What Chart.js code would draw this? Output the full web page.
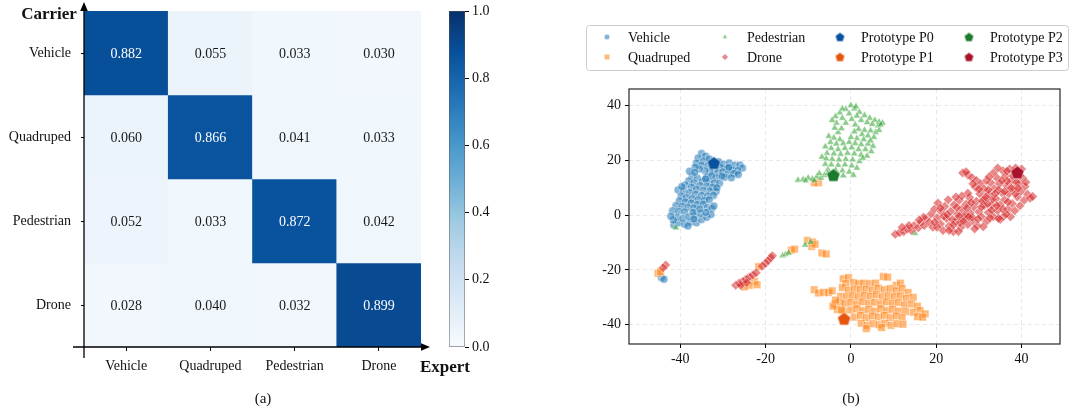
<!DOCTYPE html>
<html>
<head>
<meta charset="utf-8">
<script src="https://cdn.jsdelivr.net/npm/chart.js@4.4.1/dist/chart.umd.min.js"></script>
<style>
  body { margin: 0; background: #fff; width: 1070px; height: 410px; position: relative; overflow: hidden;
         font-family: "Liberation Serif", "Times New Roman", serif; color: #111; }
  canvas { position: absolute; top: 0; }
  .lbl { position: absolute; transform: translate(-50%, -50%); white-space: nowrap; }
</style>
</head>
<body>
<canvas id="heat" width="440" height="410" style="left:0"></canvas>
<canvas id="cbar" width="60" height="410" style="left:440px"></canvas>
<canvas id="tsne" width="490" height="410" style="left:580px"></canvas>
<div class="lbl" style="left:49px;top:14px;font-weight:bold;font-size:17px">Carrier</div>
<div class="lbl" style="left:445px;top:367px;font-weight:bold;font-size:17px">Expert</div>
<div class="lbl" style="left:263px;top:398px;font-size:15px">(a)</div>
<div class="lbl" style="left:851px;top:398px;font-size:15px">(b)</div>
<script>
const FONT = '"Liberation Serif", "Times New Roman", serif';
Chart.defaults.font.family = FONT;
Chart.defaults.color = '#111';
Chart.defaults.animation = false;

// ---- (a) carrier / expert matrix
const carriers = ['Vehicle', 'Quadruped', 'Pedestrian', 'Drone'];
const experts = ['Vehicle', 'Quadruped', 'Pedestrian', 'Drone'];
const vehicleRow = [0.882, 0.055, 0.033, 0.030];
const quadrupedRow = [0.060, 0.866, 0.041, 0.033];
const pedestrianRow = [0.052, 0.033, 0.872, 0.042];
const droneRow = [0.028, 0.040, 0.032, 0.899];
const colorbarTicks = [0, 0.2, 0.4, 0.6, 0.8, 1.0];

// ---- (b) t-SNE embedding
const vehiclePts = [
  [-35,22.5],[-34,21.5],[-35.8,20.8],[-34.5,19.8],[-33.2,20.5],[-31,19.5],[-29.8,18.6],[-28.5,19],[-27.2,18.2],[-26,18.3],
  [-25.4,17.2],[-36.2,19],[-35,18.2],[-33.5,18],[-30.5,17.5],[-29,17.2],[-27.8,16.6],[-26.5,16.3],
  [-32,16.8],[-33,15.8],[-31.2,15.5],[-30,15.8],[-28.8,15],[-27.4,15.2],[-26.4,14.8],[-29.6,13.8],[-31.5,13.6],[-34.2,16.2],
  [-35.5,16.8],[-36.5,17.5],[-33.8,14],[-28,13.6],
  [-37.2,14.2],[-36,13.5],[-34.8,12.4],[-33.2,12.2],[-32,11.8],[-30.8,11.6],[-38,12.5],[-36.8,11.8],[-35.4,10.8],[-33.8,10.6],
  [-32.4,10.2],[-38.8,11],[-37.4,10.2],[-36.2,9.4],[-34.6,9],[-33,8.8],[-31.6,8.6],
  [-40.5,9.2],[-39.2,8.8],[-37.8,8.2],[-36.4,7.6],[-35,7.2],[-33.6,7],[-32.2,7.2],[-39.8,7],[-38.6,6.4],[-37.2,6],[-35.8,5.6],
  [-34.4,5.4],[-40.2,5.2],[-38.8,4.8],[-37.4,4.4],[-36,3.9],[-34.6,4],[-33.2,5.6],
  [-41,3.5],[-39.6,3.2],[-38.2,2.8],[-36.8,2.6],[-41.8,1.6],[-40.4,1.4],[-39,1.2],[-33.6,2.8],[-32.6,2.4],[-32.1,3.3],
  [-41.5,-3.6],[-40.4,-2.8],[-39,-3.3],[-37.6,-2.6],[-36.2,-2.8],[-35,-1.6],[-33.8,-0.8],[-32.8,0.2],[-40.8,-0.8],[-39.4,-1.2],
  [-38,-0.6],[-36.6,-0.2],[-35.2,0.6],[-41.6,-1.8],[-34,1],
  [-37.8,16],[-36.6,15.6],[-30.2,14.2],[-32.6,14.4],[-39.6,10.4],[-34,13.2],[-31.4,10],[-35.4,2.2],[-37,1],[-42.2,-0.4],
  [-38.2,-4],[-36.8,-1.4],[-28.6,17.4],[-31.8,18.2],
  [-44.4,-22.8],[-43.8,-23.4]
];
const quadrupedPts = [
  [-1.8,-23.2],[-0.6,-22.8],[0.6,-24.6],[1.8,-25],[3,-24.8],[4.4,-25],[5.8,-24.8],[7.6,-22.4],[8.6,-22.6],[10.6,-25.6],
  [11.6,-24.8],[-1.2,-25],[-2,-26.4],
  [-0.6,-27.4],[0.8,-27],[2.2,-27.2],[3.6,-27],[5,-27.4],[6.4,-26.6],[7.8,-27.2],[9.2,-26.8],[10.6,-27.6],[12,-26.8],[13.4,-28.2],
  [-2.4,-29.6],[-1,-29.8],[0.4,-29.4],[1.8,-29.8],[3.2,-29.2],[4.6,-29.6],[6,-29],[7.4,-29.8],[8.8,-29.4],[10.2,-29.8],
  [11.6,-29.4],[13,-30.4],[14.6,-30],
  [-3.8,-32.4],[-2.6,-31.8],[-1.4,-32.2],[0,-31.8],[1.4,-32.4],[2.8,-31.6],[4.2,-32.2],[5.6,-31.8],[7,-32.4],[8.4,-31.6],
  [9.8,-32.2],[11.2,-31.8],[12.6,-32.8],[14.2,-32.4],[15.6,-33.2],
  [-3.2,-34.4],[-1.6,-35],[0,-34.6],[1.4,-34.2],[2.8,-34.8],[4.2,-34.4],[5.6,-35],[7,-34.2],[8.4,-34.8],[9.8,-34.4],
  [11.2,-35],[12.8,-35.2],[14.6,-35.4],[16.2,-34.8],[17.4,-36],
  [0.8,-37.2],[2.2,-36.6],[3.6,-37.4],[5,-36.8],[6.4,-37.2],[7.8,-36.6],[9.2,-37.4],[10.6,-36.8],[12,-37.4],[15.6,-37],[16.8,-37.2],
  [2.4,-39.4],[3.8,-40.2],[5.2,-39.6],[6.6,-40],[8,-39.4],[9.4,-40.2],[10.8,-39.6],[12.2,-39.8],[3.6,-41.4],[7.2,-41],
  [-8.6,-27.2],[-7.6,-28.4],[-6.4,-28.2],[-5.2,-28.2],[-4.4,-27.6],[-4.2,-33.2],[-3.6,-31],[-2.2,-34.6],
  [-45.2,-21.2],[-44.6,-20.6],[-10.2,-9.2],[-9,-9.8],[-9.2,-11.4],[-8.4,-10.6],[-6.8,-13.8],[-5.8,-14.2],[-14,-12.8],[-13.2,-12.4],
  [-21.6,-18.8],[-22.6,-24.2],[-23.8,-25.6],[-25,-26.2],[-22,-25.4],[-7.6,11.8],[-8.6,11.8]
];
const pedestrianPts = [
  [0,40],[-1.2,38.6],[0.8,38.8],[2,37.6],[-2.6,37.4],[-0.4,37],[1.4,36.2],[3.2,36.4],[4.4,35.4],[5.6,34.6],[6.6,34],[7.4,33.6],
  [-3.6,36],[-2,35.4],[0.2,35],[2.4,34.6],[3.8,33.8],[5,33.2],[6.4,32.6],[-1.2,33.6],[1,33],[-3.4,33.6],
  [-3,30.2],[-2.2,31.6],[1.8,31.4],[3.2,31],[4.6,30.8],[5.8,30.2],[0.8,30.4],[2.6,29.4],[4,29],[5.4,28.4],[1.4,28],[3,27.6],
  [-4,28.2],[-2.6,27.6],[-4.8,26.6],
  [-3.4,26],[-1.8,26.2],[-0.4,26.6],[1,26.2],[2.4,25.8],[4,26],[5.2,25.2],[-6,25],[-4.6,24.4],[-3,24],[-1.4,24.4],[0.2,24.6],
  [1.8,24],[3.4,24],[4.8,23.2],[-5.6,22.6],[-4,22.4],[-2.4,22.2],[-0.8,22.6],[0.8,22.4],[2.4,22],[3.8,21.6],[-6.8,21.2],
  [-5.8,20.6],[-4.4,20.4],[-2.8,20.2],[-1.2,20.4],[0.4,20.2],[2,19.6],[-6,18.6],[-4.6,18.4],[-3,18.2],[-1.4,18.4],[0.2,18],
  [1.4,17.2],[-5.4,16.6],[-3.6,16.4],[-2,16.2],[-0.4,15.8],[0.6,14.6],[-1.8,14.4],
  [-5.2,28.8],[-3.8,31.8],[6.6,31],[7,33],[0,28.4],[4.6,27.2],[2.8,20.8],[-2,38.8],[1.2,39.6],[-4.4,34.6],
  [-12.4,12.8],[-11.2,13],[-10,13.6],[-9,13.2],[-8,14],[-7,13.6],[-6.2,14.6],[-5.4,15.2],[-8.6,12.6],[-10.6,12.6],[-7.4,15.2],
  [-41,-4.6],[15,-6.6],[-16,-14.8],[-15.3,-14.3],[-14.6,-13.8],[-10.7,-10.9],[-9.4,-9.8]
];
const dronePts = [
  [10.4,-7],[11.4,-6.4],[12.4,-6],[13.2,-5],[14.2,-5.6],[14.8,-3.8],[15.8,-4.6],[16.4,-2.6],[17.2,-3.8],[17.6,-1.2],
  [18.4,-2.6],[18.8,0.4],[19.2,-4.4],[19.6,2.2],[20.2,-1],[20.4,4.4],[21,-3.2],[21.2,1.2],[21.6,-5.6],
  [22,3.2],[22.4,-1.2],[22.8,5.6],[23,-4],[23.4,1.4],[24,-6],[24.2,3.8],[24.6,-2.2],[25,0.4],[25.4,5.4],[25.8,-4.4],[26,2.2],
  [26.6,-1],[27,4],[27.4,-3.4],[27.8,6.4],[28,0.8],[28.6,-2],[28.8,3],[29.4,5],[29.6,-3.8],[30,1.2],[30.2,7.8],[30.6,-0.6],[29,-5],
  [26.2,15.4],[27.4,14.6],[28.4,13.6],[29.4,12.6],[30.4,11.4],[29.2,10.2],[31.2,9.6],[27,15.8],
  [31.2,3.4],[31.4,5.6],[31.8,-2.2],[32.2,1],[32.4,7.6],[32.8,11.8],[33,3.6],[33.4,-0.6],[33.6,9.6],[34,6],[34.2,13.6],[34.4,1.6],
  [34.8,11.4],[35,3.8],[35.4,8.2],[35.6,16.2],[35.8,-0.4],[36,5.6],[36.2,14.2],[36.6,10.6],[36.8,2.2],[37,7.8],[37.2,16.8],
  [37.6,12.6],[37.8,4.2],[38.2,9.6],[38.4,1.6],[38.6,14.6],[37.4,-0.6],
  [39,6.6],[39.4,11.6],[39.6,3.4],[39.8,8.6],[40.2,13.6],[40.6,5.4],[40.8,10.4],[41.4,7.6],[42,6.2],[42.6,6.8],[41,12],[40,16.8],[38.6,17.2],
  [23.8,-1.6],[25.6,-2.8],[26.8,0.2],[24.8,2.8],[28.4,-0.8],[30.6,3],[32.6,-1],[33.2,5.8],[35,-1.6],[36.4,0.4],[27.2,2.6],
  [21.8,-0.4],[34.6,9.2],[31.8,12.6],[33.4,15.4],[36.6,12.4],[38.8,12],[25.2,-6],[20.2,-4.4],[23,-5.6],
  [21,2.6],[22.6,0.2],[24,-3.6],[25.4,-0.4],[26.4,-2.2],[27.6,-0.6],[28.2,4.6],[29.8,-1.4],[30.8,5.2],[31,-4.2],[32,4.2],
  [33,1.8],[34.6,-1.2],[35.6,2.2],[36.8,4.8],[37.6,9.8],[38.6,7.8],[39.2,9.8],[35.4,12.6],[33.8,7.8],[32.2,9.2],[31.6,6.6],
  [34.2,3.4],[36,8.6],[30,9.4],[28.6,11.4],[27.4,8],[26,7],[24.6,6.6],[38,14.4],[36.6,16],[34.4,17.2],[39.6,14.4],[32.4,14],
  [19.6,-2.6],[17,-0.8],[16,-1.8],[13.6,-3.8],[12,-4.4],
  [-27,-25.6],[-26.2,-24.8],[-25.4,-24.2],[-24.6,-23.4],[-23.8,-22.6],[-23,-21.8],[-22.2,-21],[-20.8,-18.6],[-20,-17.6],
  [-19.4,-16.6],[-18.8,-15.6],[-18.4,-14.8],[-25.8,-25.6],[-24.4,-24.6],
  [-43.4,-18.2],[-44,-19.2]
];
const prototypeP0 = [[-32.1, 19.0]];
const prototypeP1 = [[-1.6, -37.8]];
const prototypeP2 = [[-4.1, 14.6]];
const prototypeP3 = [[39.0, 15.6]];
const xTicks = [-40, -20, 0, 20, 40];
const yTicks = [-40, -20, 0, 20, 40];

// Blues colormap
const BLUES = ['#f7fbff', '#deebf7', '#c6dbef', '#9ecae1', '#6baed6', '#4292c6', '#2171b5', '#08519c', '#08306b'];
function hexRgb(h) { return [1, 3, 5].map(i => parseInt(h.substr(i, 2), 16)); }
function blues(v) {
  const t = Math.max(0, Math.min(1, v)) * (BLUES.length - 1);
  const i = Math.min(Math.floor(t), BLUES.length - 2);
  const a = hexRgb(BLUES[i]), b = hexRgb(BLUES[i + 1]), f = t - i;
  return 'rgb(' + a.map((c, k) => Math.round(c + (b[k] - c) * f)).join(',') + ')';
}

//Texto de cada celda
const cellText = {
  id: 'cellText',
  afterDatasetsDraw(chart) {
    const ctx = chart.ctx;
    ctx.save();
    ctx.font = '14px ' + FONT;
    ctx.textAlign = 'center';
    ctx.textBaseline = 'middle';
    chart.data.datasets.forEach((ds, i) => {
      chart.getDatasetMeta(i).data.forEach((bar, j) => {
        const v = ds.values[j];
        ctx.fillStyle = v > 0.5 ? '#fff' : '#1a1a1a';
        ctx.fillText(v.toFixed(3), bar.x, (bar.y + bar.base) / 2 + 1);
      });
    });
    ctx.restore();
  }
};

//Ejes con flecha
const arrowAxes = {
  id: 'arrowAxes',
  afterDraw(chart) {
    const { ctx, chartArea: a } = chart;
    ctx.save();
    ctx.strokeStyle = '#000';
    ctx.fillStyle = '#000';
    ctx.lineWidth = 1.3;
    ctx.beginPath();
    ctx.moveTo(a.left - 11, a.bottom); ctx.lineTo(a.right + 2, a.bottom);
    ctx.moveTo(a.left, a.bottom + 11); ctx.lineTo(a.left, a.top - 2);
    ctx.stroke();
    ctx.beginPath();
    ctx.moveTo(a.right + 9, a.bottom); ctx.lineTo(a.right, a.bottom - 3.8); ctx.lineTo(a.right, a.bottom + 3.8); ctx.closePath();
    ctx.moveTo(a.left, a.top - 9); ctx.lineTo(a.left - 3.8, a.top); ctx.lineTo(a.left + 3.8, a.top); ctx.closePath();
    ctx.fill();
    ctx.restore();
  }
};

new Chart(document.getElementById('heat'), {
  type: 'bar',
  data: {
    labels: experts,
    datasets: [vehicleRow, quadrupedRow, pedestrianRow, droneRow].map((row, i) => ({
      label: carriers[i],
      data: row.map(() => [3 - i, 4 - i]),
      values: row,
      backgroundColor: row.map(blues),
      borderWidth: 0,
      grouped: false,
      barPercentage: 1,
      categoryPercentage: 1
    }))
  },
  options: {
    responsive: false,
    devicePixelRatio: 1,
    layout: { padding: { top: 11, right: 19, left: 0, bottom: 0 } },
    plugins: { legend: { display: false }, tooltip: { enabled: false } },
    scales: {
      x: {
        grid: { drawOnChartArea: false, offset: false, tickLength: 4, color: '#000' },
        border: { display: false },
        ticks: { font: { size: 14 }, padding: 7, color: '#111' },
        afterFit(s) { s.height = 63; }
      },
      y: {
        min: 0, max: 4,
        grid: { drawOnChartArea: false, tickLength: 3, color: '#000' },
        border: { display: false },
        afterBuildTicks(s) { s.ticks = [0.5, 1.5, 2.5, 3.5].map(v => ({ value: v })); },
        ticks: { font: { size: 14 }, padding: 10, color: '#111', callback: v => carriers[3 - Math.floor(v)] },
        afterFit(s) { s.width = 84; s.paddingTop = 0; s.paddingBottom = 0; }
      }
    }
  },
  plugins: [cellText, arrowAxes]
});

// colorbar
new Chart(document.getElementById('cbar'), {
  type: 'bar',
  data: {
    labels: ['cb'],
    datasets: [{
      data: [[0, 1]],
      backgroundColor(c) {
        const a = c.chart.chartArea;
        if (!a) return BLUES[0];
        const g = c.chart.ctx.createLinearGradient(0, a.bottom, 0, a.top);
        BLUES.forEach((col, i) => g.addColorStop(i / (BLUES.length - 1), col));
        return g;
      },
      borderColor: '#555',
      borderWidth: 0.8,
      borderSkipped: false,
      barPercentage: 1,
      categoryPercentage: 1
    }]
  },
  options: {
    responsive: false,
    devicePixelRatio: 1,
    layout: { padding: { left: 9, top: 11, bottom: 63, right: 0 } },
    plugins: { legend: { display: false }, tooltip: { enabled: false } },
    scales: {
      x: { display: false },
      y: {
        position: 'right', min: 0, max: 1,
        afterBuildTicks(s) { s.ticks = colorbarTicks.map(v => ({ value: v })); },
        ticks: { font: { size: 14 }, padding: 3, color: '#111', callback: v => v.toFixed(1) },
        grid: { drawOnChartArea: false, tickLength: 4, color: '#000' },
        border: { display: false },
        afterFit(s) { s.width = 35; s.paddingTop = 0; s.paddingBottom = 0; }
      }
    }
  }
});

// pentagon marker for prototypes
function pentagon(color, size) {
  const c = document.createElement('canvas');
  c.width = c.height = size;
  const g = c.getContext('2d');
  const r = size / 2 - 0.6;
  g.beginPath();
  for (let k = 0; k < 5; k++) {
    const ang = -Math.PI / 2 + k * 2 * Math.PI / 5;
    const px = size / 2 + r * Math.cos(ang), py = size / 2 + r * Math.sin(ang) + r * 0.09;
    if (k) g.lineTo(px, py); else g.moveTo(px, py);
  }
  g.closePath();
  g.fillStyle = color;
  g.fill();
  g.strokeStyle = 'rgba(255,255,255,0.8)';
  g.lineWidth = 0.6;
  g.stroke();
  return c;
}

const protoColors = ['#08519c', '#e6550d', '#1b7a2c', '#a8122c'];
const pts = arr => arr.map(([x, y]) => ({ x, y }));
const cloud = (label, data, color, style, radius, order) => ({
  label, data: pts(data), pointStyle: style, pointRadius: radius,
  backgroundColor: color, borderColor: 'rgba(255,255,255,0.75)', borderWidth: 0.6, order
});
const proto = (label, data, color) => ({
  label, data: pts(data), pointStyle: pentagon(color, 15), legendIcon: pentagon(color, 11),
  backgroundColor: color, order: 0
});

//Leyenda en 4 columnas
const gridLegend = {
  id: 'gridLegend',
  afterDraw(chart) {
    const ctx = chart.ctx;
    ctx.save();
    ctx.fillStyle = 'rgba(255,255,255,0.9)';
    ctx.strokeStyle = '#cccccc';
    ctx.lineWidth = 1;
    ctx.beginPath();
    ctx.roundRect(6.5, 25.5, 482, 45, 3);
    ctx.fill();
    ctx.stroke();
    const markX = [27, 145, 260, 389], textX = [48, 167, 281, 410], rowY = [37, 57];
    ctx.font = '14px ' + FONT;
    ctx.textBaseline = 'middle';
    chart.data.datasets.forEach((ds, i) => {
      const col = Math.floor(i / 2), row = i % 2;
      const x = markX[col], y = rowY[row];
      if (ds.legendIcon) {
        ctx.drawImage(ds.legendIcon, x - 5.5, y - 5.5);
      } else {
        ctx.fillStyle = ds.backgroundColor;
        ctx.strokeStyle = ds.borderColor;
        ctx.lineWidth = ds.borderWidth;
        Chart.helpers.drawPoint(ctx, { pointStyle: ds.pointStyle, radius: ds.pointRadius * 0.7, borderWidth: ds.borderWidth, rotation: 0 }, x, y);
      }
      ctx.fillStyle = '#111';
      ctx.fillText(ds.label, textX[col], y + 1);
    });
    ctx.restore();
  }
};

const frame = {
  id: 'frame',
  afterDraw(chart) {
    const { ctx, chartArea: a } = chart;
    ctx.save();
    ctx.strokeStyle = '#262626';
    ctx.lineWidth = 1.2;
    ctx.strokeRect(a.left, a.top, a.right - a.left, a.bottom - a.top);
    ctx.restore();
  }
};

new Chart(document.getElementById('tsne'), {
  type: 'scatter',
  data: {
    datasets: [
      cloud('Vehicle', vehiclePts, 'rgba(31,119,180,0.55)', 'circle', 4, 4),
      cloud('Quadruped', quadrupedPts, 'rgba(255,127,14,0.55)', 'rect', 5.4, 3),
      cloud('Pedestrian', pedestrianPts, 'rgba(44,160,44,0.55)', 'triangle', 4.2, 2),
      cloud('Drone', dronePts, 'rgba(214,39,40,0.55)', 'rectRot', 4.8, 1),
      proto('Prototype P0', prototypeP0, protoColors[0]),
      proto('Prototype P1', prototypeP1, protoColors[1]),
      proto('Prototype P2', prototypeP2, protoColors[2]),
      proto('Prototype P3', prototypeP3, protoColors[3])
    ]
  },
  options: {
    responsive: false,
    devicePixelRatio: 1,
    layout: { padding: { top: 89, right: 10, left: 0, bottom: 0 } },
    plugins: { legend: { display: false }, tooltip: { enabled: false } },
    scales: {
      x: {
        type: 'linear', min: -52, max: 49,
        afterBuildTicks(s) { s.ticks = xTicks.map(v => ({ value: v })); },
        ticks: { font: { size: 14 }, padding: 3, color: '#111', callback: v => String(v) },
        grid: { color: '#e3e3e3', lineWidth: 0.8, tickColor: '#000', tickLength: 4, tickWidth: 1 },
        border: { display: false, dash: [4, 3] },
        afterFit(s) { s.height = 66; }
      },
      y: {
        type: 'linear', min: -47, max: 46,
        afterBuildTicks(s) { s.ticks = yTicks.map(v => ({ value: v })); },
        ticks: { font: { size: 14 }, padding: 4, color: '#111', callback: v => String(v) },
        grid: { color: '#e3e3e3', lineWidth: 0.8, tickColor: '#000', tickLength: 4, tickWidth: 1 },
        border: { display: false, dash: [4, 3] },
        afterFit(s) { s.width = 49; }
      }
    }
  },
  plugins: [frame, gridLegend]
});
</script>
</body>
</html>
